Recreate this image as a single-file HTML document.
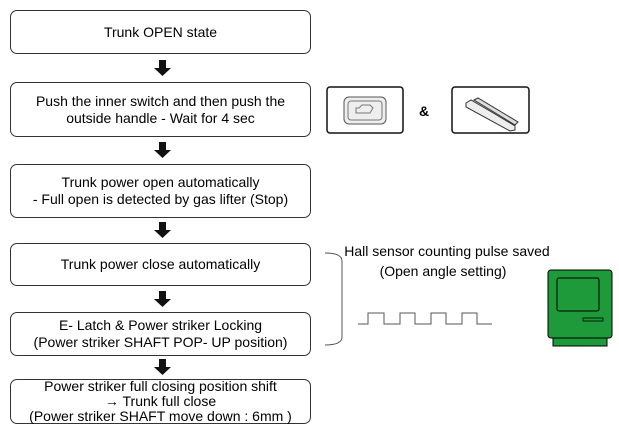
<!DOCTYPE html><html><head><style>
body{margin:0;width:619px;height:434px;background:#fff;position:relative;font-family:"Liberation Sans",sans-serif;color:#000;overflow:hidden}
.b{position:absolute;left:10px;width:301px;border:1px solid #333;border-radius:7px;display:flex;align-items:center;justify-content:center;text-align:center;font-size:14px;line-height:17px;box-sizing:border-box}
.t{position:absolute;font-size:14px;text-align:center}
</style></head><body>
<div class="b" style="top:10px;height:44px">Trunk OPEN state</div>
<div class="b" style="top:82px;height:55px">Push the inner switch and then push the<br>outside handle - Wait for 4 sec</div>
<div class="b" style="top:164px;height:54px">Trunk power open automatically<br>- Full open is detected by gas lifter (Stop)</div>
<div class="b" style="top:243px;height:43px">Trunk power close automatically</div>
<div class="b" style="top:312px;height:44px">E- Latch &amp; Power striker Locking<br>(Power striker SHAFT POP- UP position)</div>
<div class="b" style="top:379px;height:45px;line-height:15px">Power striker full closing position shift<br>→ Trunk full close<br>(Power striker SHAFT move down : 6mm )</div>
<svg width="619" height="434" style="position:absolute;left:0;top:0">
<g fill="#111">
<path d="M159 60h7v8h5l-8.5 8l-8.5-8h5z"/>
<path d="M159 142h7v8h5l-8.5 8l-8.5-8h5z"/>
<path d="M159 222h7v8h5l-8.5 8l-8.5-8h5z"/>
<path d="M159 291h7v8h5l-8.5 8l-8.5-8h5z"/>
<path d="M159 359h7v8h5l-8.5 8l-8.5-8h5z"/>
</g>
<rect x="327" y="87" width="76" height="46" rx="3" fill="#fff" stroke="#111" stroke-width="1.5"/>
<rect x="344" y="97" width="42" height="27" rx="5" fill="#eee" stroke="#555"/>
<rect x="348" y="101" width="34" height="19" rx="3" fill="none" stroke="#777"/>
<path d="M356 113h14l3-5-3-3h-8l-3 3h-3z" fill="none" stroke="#777"/>
<rect x="452" y="87" width="77" height="46" rx="3" fill="#fff" stroke="#111" stroke-width="1.5"/>
<path d="M466 103l5-3 24 14 20 12v4l-5 1-44-24z" fill="#eee" stroke="#333"/>
<path d="M474 100l4-2 40 24-3 3z" fill="#ddd" stroke="#333"/>
<text x="424" y="116" font-size="14" font-weight="bold" text-anchor="middle" font-family="Liberation Sans">&amp;</text>
<path d="M325 253q17 0 17 8v76q0 8-17 8" fill="none" stroke="#555"/>
<path d="M358 324h10v-11h16v11h16v-11h15v11h16v-11h15v11h16v-11h15v11h15" fill="none" stroke="#555"/>
<rect x="548" y="270" width="64" height="68" rx="3" fill="#1e9a3a" stroke="#000"/>
<rect x="557" y="278" width="42" height="33" rx="2" fill="#1e9a3a" stroke="#000"/>
<rect x="583" y="318" width="20" height="3" fill="#1e9a3a" stroke="#000" stroke-width=".8"/>
<rect x="553" y="338" width="54" height="8" fill="#1e9a3a" stroke="#000"/>
</svg>
<div class="t" style="left:327px;top:243px;width:240px">Hall sensor counting pulse saved</div>
<div class="t" style="left:323px;top:263px;width:240px">(Open angle setting)</div>
</body></html>
